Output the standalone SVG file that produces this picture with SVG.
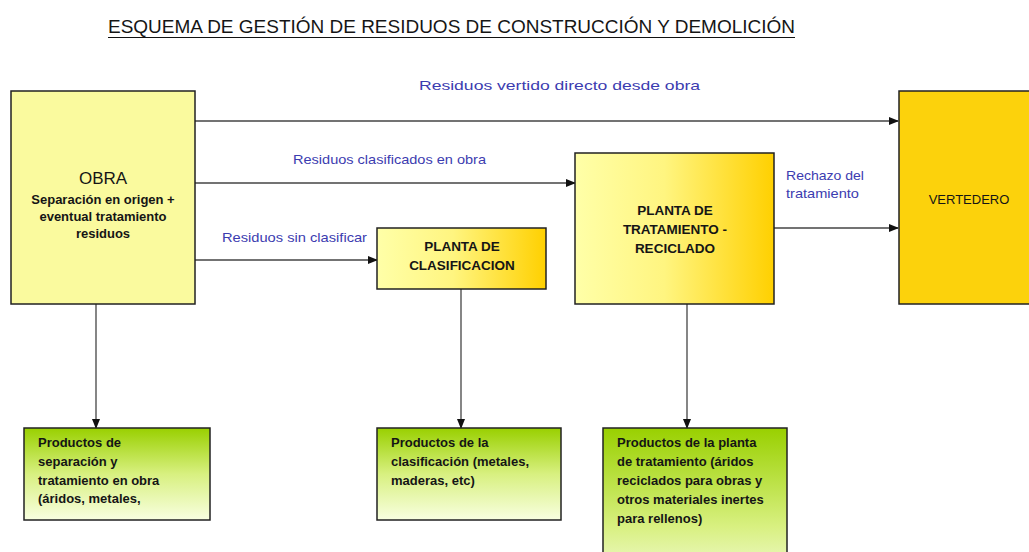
<svg xmlns="http://www.w3.org/2000/svg" width="1029" height="552" viewBox="0 0 1029 552">
<style>
.box{stroke:#222;stroke-width:1.5}
.lbl{font-family:"Liberation Sans",Arial,sans-serif;fill:#3c3cb0;font-size:13px}
.t{font-family:"Liberation Sans",Arial,sans-serif;fill:#151515}
.b{font-weight:bold;font-size:13.5px}
.g{font-size:13px;font-weight:bold}
.s{font-size:13px}
.conn{stroke:#444;stroke-width:1.3;fill:none;marker-end:url(#arr)}
</style>
<defs>
<marker id="arr" markerWidth="10" markerHeight="8" refX="9" refY="4" orient="auto" markerUnits="userSpaceOnUse">
<path d="M0,0 L10,4 L0,8 z" fill="#111"/>
</marker>
<linearGradient id="yg" x1="0" y1="0" x2="1" y2="0">
<stop offset="0" stop-color="#ffffa8"/>
<stop offset="0.45" stop-color="#fff580"/>
<stop offset="1" stop-color="#ffd000"/>
</linearGradient>
<linearGradient id="gg" x1="0" y1="0" x2="0" y2="1">
<stop offset="0" stop-color="#99d000"/>
<stop offset="0.5" stop-color="#d8f080"/>
<stop offset="1" stop-color="#f8ffe0"/>
</linearGradient>
<linearGradient id="gg3" x1="0" y1="0" x2="0" y2="1">
<stop offset="0" stop-color="#99d000"/>
<stop offset="0.7" stop-color="#d8f080"/>
<stop offset="1" stop-color="#ecf8c0"/>
</linearGradient>
</defs>
<rect width="1029" height="552" fill="#fff"/>
<g id="title">
<text class="t" x="108" y="33" font-size="19" textLength="687" lengthAdjust="spacingAndGlyphs">ESQUEMA DE GESTIÓN DE RESIDUOS DE CONSTRUCCIÓN Y DEMOLICIÓN</text>
<line x1="108" y1="37.5" x2="795" y2="37.5" stroke="#111" stroke-width="1.2"/>
</g>
<g id="connectors">
<path class="conn" d="M195,121 H898"/>
<path class="conn" d="M195,183 H575"/>
<path class="conn" d="M195,260 H377"/>
<path class="conn" d="M774,228 H898"/>
<path class="conn" d="M96,304 V428"/>
<path class="conn" d="M461,289 V428"/>
<path class="conn" d="M687,304 V428"/>
<text class="lbl" x="419" y="90" font-size="17" textLength="281" lengthAdjust="spacingAndGlyphs">Residuos vertido directo desde obra</text>
<text class="lbl" x="293" y="164" textLength="193" lengthAdjust="spacingAndGlyphs">Residuos clasificados en obra</text>
<text class="lbl" x="222" y="242" textLength="145" lengthAdjust="spacingAndGlyphs">Residuos sin clasificar</text>
<text class="lbl" x="786" y="180" textLength="78" lengthAdjust="spacingAndGlyphs">Rechazo del</text>
<text class="lbl" x="786" y="198" textLength="73" lengthAdjust="spacingAndGlyphs">tratamiento</text>
</g>
<g id="obra">
<rect class="box" x="11" y="91" width="184" height="213" fill="#fafa9e"/>
<text class="t" x="103" y="184" font-size="17" text-anchor="middle">OBRA</text>
<text class="t g" x="103" y="204" text-anchor="middle">Separación en origen +</text>
<text class="t g" x="103" y="221" text-anchor="middle">eventual tratamiento</text>
<text class="t g" x="103" y="238" text-anchor="middle">residuos</text>
</g>
<g id="clasificacion">
<rect class="box" x="377" y="228" width="169" height="61" fill="url(#yg)"/>
<text class="t b" x="462" y="251" text-anchor="middle">PLANTA DE</text>
<text class="t b" x="462" y="270" text-anchor="middle">CLASIFICACION</text>
</g>
<g id="tratamiento">
<rect class="box" x="575" y="153" width="199" height="151" fill="url(#yg)"/>
<text class="t b" x="675" y="215" text-anchor="middle">PLANTA DE</text>
<text class="t b" x="675" y="234" text-anchor="middle">TRATAMIENTO -</text>
<text class="t b" x="675" y="253" text-anchor="middle">RECICLADO</text>
</g>
<g id="vertedero">
<rect class="box" x="899" y="91" width="140" height="213" fill="#fcd20c"/>
<text class="t s" x="969" y="204" text-anchor="middle">VERTEDERO</text>
</g>
<g id="prod-obra">
<rect class="box" x="24" y="428" width="186" height="92" fill="url(#gg)"/>
<text class="t g" x="38" y="447">Productos de</text>
<text class="t g" x="38" y="466">separación y</text>
<text class="t g" x="38" y="485">tratamiento en obra</text>
<text class="t g" x="38" y="503">(áridos, metales,</text>
</g>
<g id="prod-clasificacion">
<rect class="box" x="377" y="428" width="184" height="92" fill="url(#gg)"/>
<text class="t g" x="391" y="447">Productos de la</text>
<text class="t g" x="391" y="466">clasificación (metales,</text>
<text class="t g" x="391" y="485">maderas, etc)</text>
</g>
<g id="prod-tratamiento">
<rect class="box" x="603" y="428" width="184" height="140" fill="url(#gg3)"/>
<text class="t g" x="617" y="447">Productos de la planta</text>
<text class="t g" x="617" y="466">de tratamiento (áridos</text>
<text class="t g" x="617" y="485">reciclados para obras y</text>
<text class="t g" x="617" y="504">otros materiales inertes</text>
<text class="t g" x="617" y="523">para rellenos)</text>
</g>
</svg>
